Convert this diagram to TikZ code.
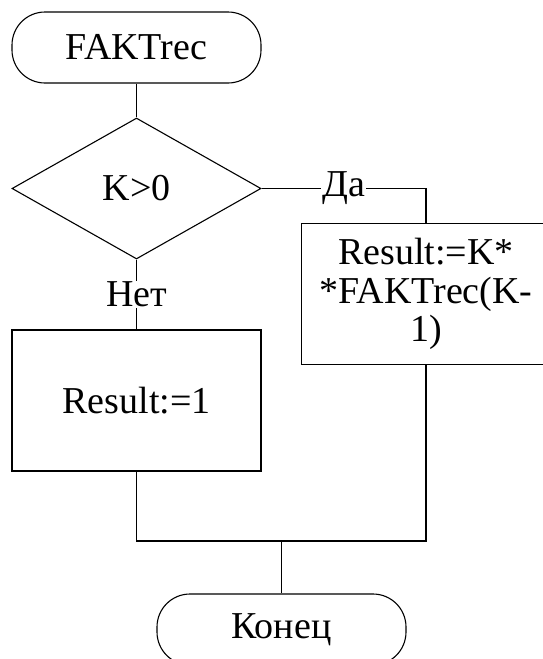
\documentclass[tikz,border=0pt]{standalone}
\usepackage{fontspec}
\setmainfont{Liberation Serif}
\usetikzlibrary{shapes.geometric}
\begin{document}
\begin{tikzpicture}[x=1pt,y=-1pt,
  every node/.style={font=\fontsize{38}{38.5}\selectfont},
  line/.style={draw=black,line width=1.1pt},
  term/.style={line,rectangle,rounded corners=33pt,minimum width=249pt,minimum height=71pt,inner sep=0pt},
  proc/.style={line,rectangle,minimum width=249pt,minimum height=141pt,inner sep=0pt,align=center},
  cond/.style={line,diamond,minimum width=249pt,minimum height=141pt,inner sep=0pt},
  lbl/.style={fill=white,inner sep=1pt}]
\useasboundingbox (0,0) rectangle (543,659);
\clip (0,0) rectangle (543,659);
\fill[white] (0,0) rectangle (543,659);

\node[term] (start) at (136.5,47.5) {FAKTrec};
\node[cond] (dec) at (136.5,188.5) {K>0};
\node[proc] (lbox) at (136.5,400.5) {Result:=1};
\node[proc] (rbox) at (426,294) {Result:=K*\\*FAKTrec(K-\\1)};
\node[term] (stop) at (281.5,629.5) {Конец};

\coordinate (join) at (stop.north |- 0,541);

\draw[line] (start.south) -- (dec.north);
\draw[line] (dec.east) -| node[lbl,pos=0.25] {Да} (rbox.north);
\draw[line] (dec.south) -- node[lbl] {Нет} (lbox.north);
\draw[line] (lbox.south) |- (join) -| (rbox.south);
\draw[line] (join) -- (stop.north);
\end{tikzpicture}
\end{document}
